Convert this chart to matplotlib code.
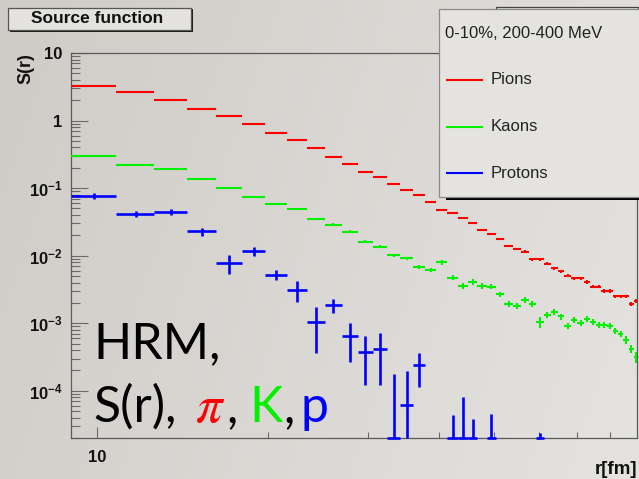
import numpy as np
import matplotlib
matplotlib.use("Agg")
import matplotlib.pyplot as plt
from matplotlib.patches import Rectangle
from matplotlib.lines import Line2D
from matplotlib.ticker import FixedLocator, FuncFormatter, NullFormatter

plt.rcParams['mathtext.fontset'] = 'custom'
plt.rcParams['mathtext.rm'] = 'Liberation Sans:bold'
plt.rcParams['mathtext.bf'] = 'Liberation Sans:bold'
plt.rcParams['mathtext.it'] = 'Liberation Sans:italic'
plt.rcParams['font.family'] = ['Liberation Sans', 'DejaVu Sans']

# ---------------- data ----------------
title = "Source function"
legend_header = "0-10%, 200-400 MeV"
series_names = ["Pions", "Kaons", "Protons"]
series_colors = ["#ff0000", "#00f000", "#0000ff"]

r_centers = [9.9, 11.7, 13.5, 15.3, 17.1, 18.9, 20.7, 22.5, 24.3, 26.1,
             27.9, 29.7, 31.5, 33.3, 35.1, 36.9, 38.7, 40.5, 42.3, 44.1,
             45.9, 47.7, 49.5, 51.3, 53.1, 54.9, 56.7, 58.5, 60.3, 62.1,
             63.9, 65.7, 67.5, 69.3, 71.1, 72.9, 74.7, 76.5, 78.3, 80.1,
             81.9, 83.7, 85.5, 87.3, 89.1]
bin_half_width = 0.9

pions = [3.28, 2.62, 2.04, 1.50, 1.18, 0.90, 0.648, 0.512, 0.398, 0.292,
         0.231, 0.174, 0.147, 0.115, 0.093, 0.0785, 0.063, 0.048, 0.043, 0.0366,
         0.0302, 0.0241, 0.0208, 0.0175, 0.0140, 0.0126, 0.0115, 0.00888, 0.00888, 0.00757,
         0.00653, 0.00589, 0.00508, 0.00464, 0.00464, 0.00409, 0.00349, 0.00349, 0.00298, 0.00298,
         0.00251, 0.00251, 0.00251, 0.00191, 0.00214]
pions_relerr = [0.01, 0.01, 0.01, 0.01, 0.01, 0.01, 0.01, 0.01, 0.01, 0.01,
                0.01, 0.01, 0.01, 0.01, 0.015, 0.015, 0.02, 0.02, 0.025, 0.025,
                0.03, 0.03, 0.03, 0.03, 0.035, 0.035, 0.04, 0.05, 0.05, 0.05,
                0.05, 0.05, 0.05, 0.05, 0.05, 0.06, 0.06, 0.06, 0.06, 0.06,
                0.06, 0.06, 0.06, 0.07, 0.07]

kaons = [0.296, 0.220, 0.194, 0.135, 0.102, 0.0733, 0.0578, 0.0488, 0.0347, 0.0289,
         0.0225, 0.0162, 0.0136, 0.0102, 0.0091, 0.00682, 0.00610, 0.00802, 0.00474, 0.00357,
         0.00409, 0.00357, 0.00349, 0.00269, 0.00191, 0.00181, 0.00222, 0.00195, 0.00104, 0.00133,
         0.00146, 0.00126, 0.000916, 0.00112, 0.00102, 0.00115, 0.00106, 0.000947, 0.000947, 0.000925,
         0.00078, 0.000697, 0.000568, 0.000418, 0.000315]
kaons_relerr = [0.02, 0.02, 0.02, 0.02, 0.02, 0.03, 0.03, 0.04, 0.04, 0.04,
                0.05, 0.05, 0.05, 0.05, 0.06, 0.07, 0.07, 0.08, 0.08, 0.09,
                0.09, 0.09, 0.09, 0.09, 0.10, 0.10, 0.10, 0.10, 0.18, 0.11,
                0.10, 0.10, 0.11, 0.10, 0.10, 0.10, 0.10, 0.10, 0.10, 0.10,
                0.10, 0.11, 0.12, 0.13, 0.18]

nan = float('nan')
protons = [0.0767, 0.0420, 0.0440, 0.0228, 0.00775, 0.0118, 0.00526, 0.00312, 0.00106, 0.00185,
           0.00064, 0.00038, 0.00042, 1e-5, 6.2e-5, 0.00024, nan, nan, 1e-5, 1e-5,
           1e-5, nan, 1e-5, nan, nan, nan, nan, nan, 1e-5, nan,
           nan, nan, nan, nan, nan, nan, nan, nan, nan, nan,
           nan, nan, nan, nan, nan]
protons_err = [0.0086, 0.0042, 0.0044, 0.0031, 0.0024, 0.0018, 0.0009, 0.00107, 0.0007, 0.00045,
               0.00037, 0.00026, 0.0003, 0.00017, 0.000131, 0.000128, nan, nan, 3.4e-5, 7.1e-5,
               2.8e-5, nan, 3.6e-5, nan, nan, nan, nan, nan, 1.4e-5, nan,
               nan, nan, nan, nan, nan, nan, nan, nan, nan, nan,
               nan, nan, nan, nan, nan]

x_limits = (9.0, 89.4)
y_limits = (2e-5, 10.0)

# ---------------- figure ----------------
W, H = 639, 479
fig = plt.figure(figsize=(W / 100, H / 100), dpi=100)

def fx(px):
    return px / W

def fy(py):
    return 1 - py / H

# background gradient
bg = fig.add_axes([0, 0, 1, 1], zorder=-10)
gx = np.linspace(0, 1, 256)
gy = np.linspace(0, 1, 64)
GX, GY = np.meshgrid(gx, gy)
left_c = np.array([207, 204, 199]) / 255
right_c = np.array([229, 227, 224]) / 255
t = np.clip(0.8 * GX + 0.2 * GY, 0, 1)[..., None]
img = left_c * (1 - t) + right_c * t
bg.imshow(img, aspect='auto', extent=[0, 1, 0, 1], origin='upper')
bg.set_axis_off()

ax = fig.add_axes([fx(71), fy(438), fx(637) - fx(71), fy(53) - fy(438)])
ax.patch.set_alpha(0)
ax.set_xscale('log')
ax.set_yscale('log')
ax.set_xlim(*x_limits)
ax.set_ylim(*y_limits)

ymin = y_limits[0]

def draw_series(vals, errs, color, lw, clip=True, z=3):
    v = np.asarray(vals, float)
    e = np.asarray(errs, float)
    x = np.asarray(r_centers, float)
    m = ~np.isnan(v)
    v, e, x = v[m], e[m], x[m]
    y = np.maximum(v, ymin)
    lo = y - np.maximum(v - e, ymin)
    hi = np.maximum(v + e - y, 0)
    cont = ax.errorbar(x, y, xerr=bin_half_width, yerr=np.vstack([lo, hi]),
                       fmt='none', ecolor=color, elinewidth=lw, capsize=0, zorder=z)
    for c in cont.lines[2]:
        c.set_clip_on(clip)
        c.set_capstyle('butt')

pion_err = [p * f for p, f in zip(pions, pions_relerr)]
kaon_err = [k * f for k, f in zip(kaons, kaons_relerr)]
draw_series(pions, pion_err, series_colors[0], 1.5)
draw_series(kaons, kaon_err, series_colors[1], 1.5)
draw_series(protons, protons_err, series_colors[2], 1.9, clip=False, z=5)

spine_c = '#5a5a5a'
for s in ['left', 'bottom', 'top', 'right']:
    ax.spines[s].set_color(spine_c)
    ax.spines[s].set_linewidth(0.9)

ax.yaxis.set_major_locator(FixedLocator([1e-4, 1e-3, 1e-2, 1e-1, 1, 10]))
ax.yaxis.set_minor_locator(FixedLocator([m * 10.0 ** k for k in range(-5, 1) for m in range(2, 10)]))

def yfmt(v, pos):
    if v >= 9:
        return "10"
    if 0.9 < v < 1.1:
        return "1"
    k = int(round(np.log10(v)))
    return r"10$^{\mathregular{%d}}$" % k

ax.yaxis.set_major_formatter(FuncFormatter(yfmt))
ax.yaxis.set_minor_formatter(NullFormatter())
ax.xaxis.set_major_locator(FixedLocator([10]))
ax.xaxis.set_minor_locator(FixedLocator([20, 30, 40, 50, 60, 70, 80]))
ax.xaxis.set_major_formatter(FuncFormatter(lambda v, p: "%d" % v))
ax.xaxis.set_minor_formatter(NullFormatter())

ax.tick_params(axis='y', which='major', direction='in', length=12.2, width=0.8,
               color='#6a6a6a', labelsize=12, pad=6, labelcolor='#111111')
ax.tick_params(axis='y', which='minor', direction='in', length=6.3, width=0.8, color='#6a6a6a')
ax.tick_params(axis='x', which='major', direction='in', length=8, width=0.8,
               color='#6a6a6a', labelsize=12, pad=9, labelcolor='#111111')
ax.tick_params(axis='x', which='minor', direction='in', length=4, width=0.8, color='#6a6a6a')
ax.tick_params(top=False, right=False, which='both')
for lab in ax.get_yticklabels() + ax.get_xticklabels():
    lab.set_fontweight('bold')

# axis titles
fig.text(fx(26), fy(53), "S(r)", rotation=90, ha='center', va='top', fontsize=13,
         fontweight='bold', color='#111111')
fig.text(fx(637), fy(470), "r[fm]", ha='right', va='center', fontsize=13.5,
         fontweight='bold', color='#111111')

# title box
fig.add_artist(Rectangle((fx(9.5), fy(31.5)), fx(183.5), fy(9.5) - fy(31.5),
                         transform=fig.transFigure, facecolor='#1a1a1a', edgecolor='none', zorder=8))
fig.add_artist(Rectangle((fx(7.5), fy(29.5)), fx(183.5), fy(7.5) - fy(29.5),
                         transform=fig.transFigure, facecolor='#e4e2df', edgecolor='#555555',
                         linewidth=0.9, zorder=9))
fig.text(fx(97.5), fy(18.5), title, ha='center', va='center', fontsize=12.5,
         fontweight='bold', color='#111111', zorder=10)

# box partially hidden behind legend
fig.add_artist(Rectangle((fx(495.7), fy(60)), fx(142), fy(6.7) - fy(60),
                         transform=fig.transFigure, facecolor='#e2e0dd', edgecolor='#444444',
                         linewidth=0.9, zorder=8))

# legend
fig.add_artist(Rectangle((fx(445.7), fy(200.3)), fx(200), fy(10) - fy(200.3),
                         transform=fig.transFigure, facecolor='#000000', edgecolor='none', zorder=9))
fig.add_artist(Rectangle((fx(439), fy(197.3)), fx(205), fy(9.3) - fy(197.3),
                         transform=fig.transFigure, facecolor='#e4e3e0', edgecolor='#8a8a8a',
                         linewidth=0.9, zorder=10))
fig.text(fx(445), fy(33.3), legend_header, ha='left', va='center', fontsize=12, color='#222222', zorder=11)
leg_y = [80, 126.7, 173.3]
for name, col, yy in zip(series_names, series_colors, leg_y):
    fig.add_artist(Line2D([fx(446), fx(482.7)], [fy(yy), fy(yy)], transform=fig.transFigure,
                          color=col, linewidth=1.5, zorder=11, solid_capstyle='butt'))
    fig.text(fx(491), fy(yy), name, ha='left', va='center', fontsize=12, color='#222222', zorder=11)

# big annotation text
big = dict(fontsize=36, family=['Lato', 'DejaVu Sans'], va='baseline', zorder=12)
fig.text(fx(93), fy(358.3), "HRM,", color='black', **big)
fig.text(fx(93), fy(421.7), "S(r),", color='black', **big)
fig.text(fx(195), fy(421.7), r"$\pi$", color='#ff0000', fontsize=38, va='baseline',
         math_fontfamily='stix', zorder=12)
fig.text(fx(226), fy(421.7), ",", color='black', **big)
fig.text(fx(249), fy(421.7), "K", color='#00f000', **big)
fig.text(fx(283), fy(421.7), ",", color='black', **big)
fig.text(fx(300), fy(421.7), "p", color='#0000ff', **big)

fig.savefig("out.png", dpi=100)
